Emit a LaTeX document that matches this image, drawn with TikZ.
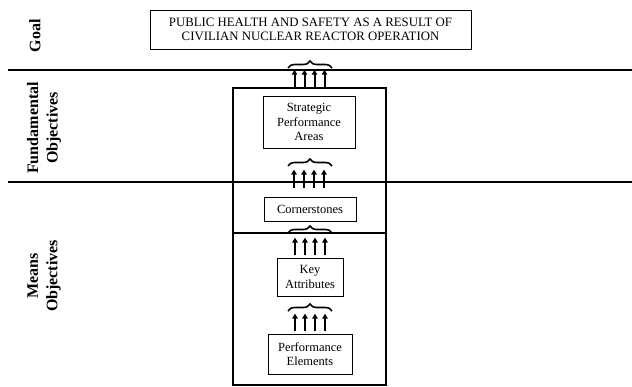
\documentclass[tikz,border=0pt]{standalone}
\usepackage{fontspec}
\setmainfont{Liberation Serif}
\usetikzlibrary{decorations.pathreplacing,arrows.meta,calc}
\begin{document}
\begin{tikzpicture}[x=1pt,y=-1pt,
  box/.style={draw,line width=0.8pt,inner sep=0pt,align=center,font=\fontsize{12.5}{14.5}\selectfont},
  lab/.style={rotate=90,align=center,font=\fontsize{16}{19.5}\selectfont\bfseries},
  up/.style={-{Triangle[length=5pt,width=5.5pt]},line width=2pt},
  br/.style={decorate,decoration={brace,amplitude=7pt},line width=1.6pt},
  sep/.style={line width=1.5pt},
  frm/.style={draw,line width=2.5pt,inner sep=0pt}]
\useasboundingbox (0,0) rectangle (632,387);
% separator lines
\coordinate (l1a) at (8,70);  \coordinate (l1b) at (632,70);
\coordinate (l2a) at (8,182); \coordinate (l2b) at (632,182);
\draw[sep] (l1a) -- (l1b);
\draw[sep] (l2a) -- (l2b);
% row labels
\node[lab] (lg) at (35,36) {Goal};
\node[lab] (lf) at (44,128) {Fundamental\\Objectives};
\node[lab] (lm) at (44,276) {Means\\Objectives};
% goal
\node[box,minimum width=321pt,minimum height=39pt,font=\fontsize{12.8}{14.5}\selectfont] (goal) at (310.5,29.5)
  {PUBLIC HEALTH AND SAFETY AS A RESULT OF\\CIVILIAN NUCLEAR REACTOR OPERATION};
% frame
\node[frm,minimum width=153pt,minimum height=297pt] (frame) at (309.5,236.5) {};
\coordinate (yl) at (0,233);
\draw[line width=2.5pt] (frame.west |- yl) -- (frame.east |- yl);
% boxes
\node[box,minimum width=92pt,minimum height=52pt] (spa) at (309,122) {Strategic\\Performance\\Areas};
\node[box,minimum width=92pt,minimum height=24pt] (cs) at (310,209) {Cornerstones};
\node[box,minimum width=66pt,minimum height=38pt] (key) at (310,277) {Key\\Attributes};
\node[box,minimum width=84pt,minimum height=40pt] (pe) at (310,354) {Performance\\Elements};
% braces
\draw[br] (288,68) -- (332,68);
\draw[br] (288,166) -- (332,166);
\draw[br] (288,233) -- (332,233);
\draw[br] (288,311) -- (332,311);
% arrows
\foreach \dx in {-15,-5,5,15} {
  \draw[up] ([xshift=\dx pt]frame.north) -- ++(0,-17);
  \draw[up] ($(cs.north)+(\dx-1,-9)$) -- ++(0,-18);
  \draw[up] ($(key.north)+(\dx,-3)$) -- ++(0,-17);
  \draw[up] ($(pe.north)+(\dx,-3)$) -- ++(0,-17);
}
\end{tikzpicture}
\end{document}
